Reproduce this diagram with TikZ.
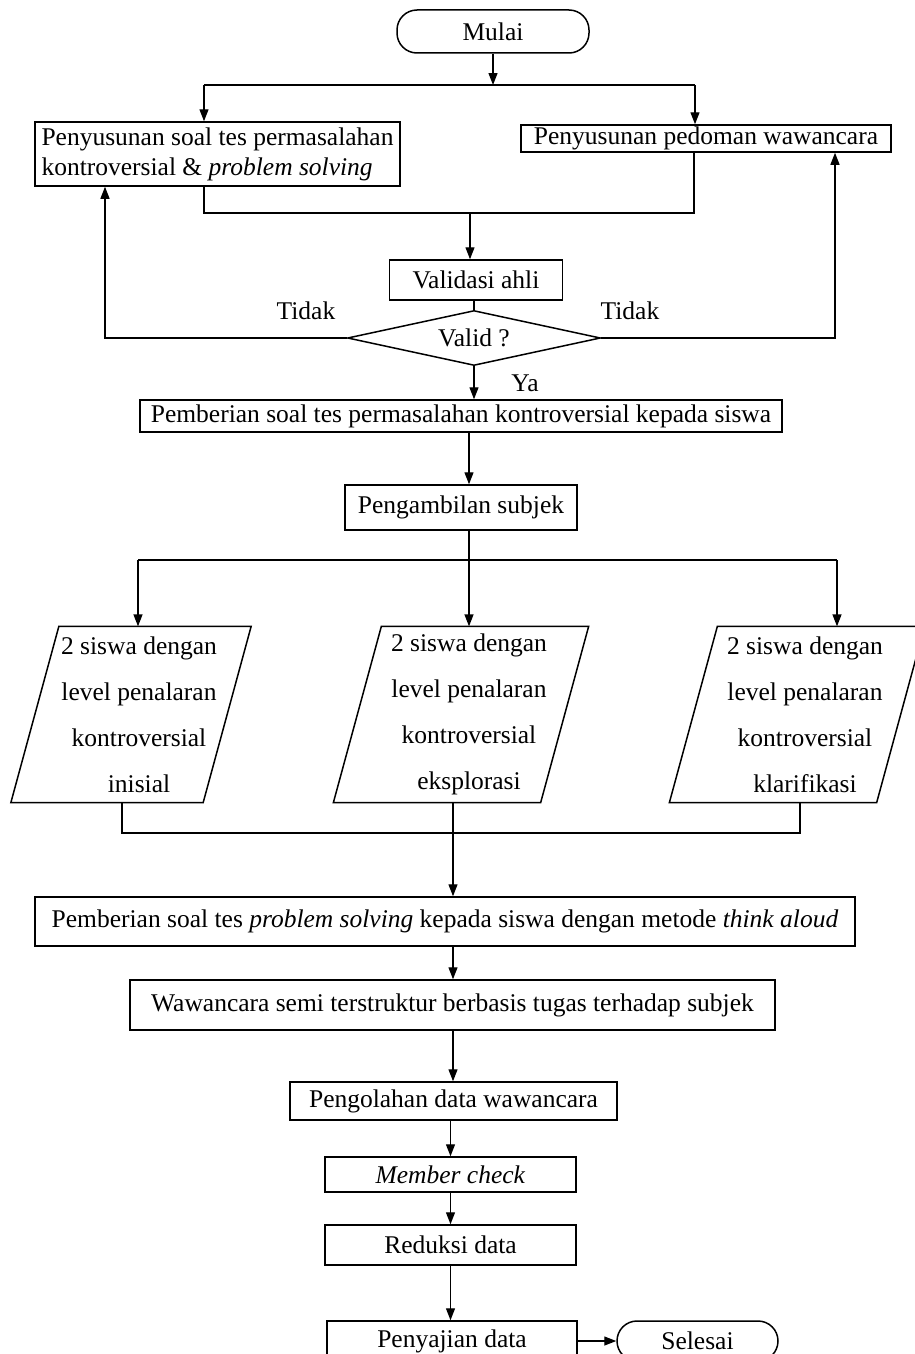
\documentclass[tikz,border=0pt]{standalone}
\usepackage{fontspec}
\setmainfont{Liberation Serif}
\usetikzlibrary{arrows.meta,shapes.geometric}

\begin{document}
	\begin{tikzpicture}[x=1pt,y=-1pt,line width=1.3pt,
		box/.style={draw,line width=1.5pt,inner sep=0pt,font=\fontsize{25.5}{30}\selectfont},
		terminal/.style={box,rounded corners=20pt},
		decision/.style={box,shape=diamond,aspect=4.6},
		para/.style={inner sep=0pt,align=center,minimum height=175,font=\fontsize{25.5}{46}\selectfont},
		label/.style={inner sep=0pt,font=\fontsize{25.5}{30}\selectfont},
		flow/.style={-{Triangle[length=12pt,width=9pt]}}]
		\useasboundingbox (0,0) rectangle (915,1354);
		\node [terminal,minimum width=192,minimum height=43] (mulai) at (493,31.5) {Mulai};
		\node [box,align=left,minimum width=365,minimum height=64] (soal) at (217.5,154) {Penyusunan soal tes permasalahan\\kontroversial \& \textit{problem solving}};
		\node [box,minimum width=370,minimum height=27] (pedoman) at (706,138.5) {Penyusunan pedoman wawancara};
		\node [box,minimum width=173,minimum height=40] (validasi) at (476,280) {Validasi ahli};
		\node [decision,minimum width=253,minimum height=55] (valid) at (474,338) {Valid ?};
		\node [label] (tidak1) at (306,311) {Tidak};
		\node [label] (tidak2) at (630,311) {Tidak};
		\node [label] (ya) at (525,383) {Ya};
		\node [box,minimum width=642,minimum height=32] (beri) at (461,416) {Pemberian soal tes permasalahan kontroversial kepada siswa};
		\node [box,minimum width=232,minimum height=45] (ambil) at (461,507.5) {Pengambilan subjek};
		\node [para,minimum width=191] (inisial) at (139,714.5) {2 siswa dengan\\level penalaran\\kontroversial\\inisial};
		\node [para,minimum width=206] (eksplorasi) at (469,714.5) {2 siswa dengan\\level penalaran\\kontroversial\\eksplorasi};
		\node [para,minimum width=206] (klarifikasi) at (805,714.5) {2 siswa dengan\\level penalaran\\kontroversial\\klarifikasi};
		\node [box,minimum width=820,minimum height=49] (solving) at (445,921.5) {Pemberian soal tes \textit{problem solving} kepada siswa dengan metode \textit{think aloud}};
		\node [box,minimum width=645,minimum height=50] (wawancara) at (452.5,1005) {Wawancara semi terstruktur berbasis tugas terhadap subjek};
		\node [box,minimum width=327,minimum height=38] (olah) at (453.5,1101) {Pengolahan data wawancara};
		\node [box,minimum width=251,minimum height=35] (member) at (450.5,1174.5) {\textit{Member check}};
		\node [box,minimum width=251,minimum height=40] (reduksi) at (450.5,1245) {Reduksi data};
		\node [box,minimum width=250,minimum height=40] (sajian) at (452,1341) {Penyajian data};
		\node [terminal,minimum width=161,minimum height=40] (selesai) at (697.5,1341) {Selesai};
		\foreach \p in {inisial,eksplorasi,klarifikasi}
			\draw [line width=1.5pt] ([xshift=16]\p.north west) -- ([xshift=16]\p.north east) -- ([xshift=-32]\p.south east) -- ([xshift=-32]\p.south west) -- cycle;
		\coordinate (a1) at (204,85);
		\coordinate (a2) at (695,85);
		\coordinate (b1) at (204,213);
		\coordinate (b2) at (694,213);
		\coordinate (bm) at (470,213);
		\coordinate (t1) at (105,338);
		\coordinate (t2) at (835,338);
		\coordinate (d1) at (138,560);
		\coordinate (d2) at (469,560);
		\coordinate (d3) at (837,560);
		\coordinate (e1) at (122,833);
		\coordinate (e2) at (453,833);
		\coordinate (e3) at (800,833);
		\draw [flow] (mulai.south) -- (mulai.south |- a1);
		\draw (a1) -- (a2);
		\draw [flow] (a1) -- (a1 |- soal.north);
		\draw [flow] (a2) -- (a2 |- pedoman.north);
		\draw (b1 |- soal.south) -- (b1) -- (b2) -- (b2 |- pedoman.south);
		\draw [flow] (bm) -- (bm |- validasi.north);
		\draw (validasi.south -| valid.north) -- (valid.north);
		\draw [flow] (valid.west) -- (t1) -- (t1 |- soal.south);
		\draw [flow] (valid.east) -- (t2) -- (t2 |- pedoman.south);
		\draw [flow] (valid.south) -- (valid.south |- beri.north);
		\draw [flow] (beri.south -| d2) -- (ambil.north -| d2);
		\draw (ambil.south -| d2) -- (d2);
		\draw (d1) -- (d3);
		\draw [flow] (d1) -- (d1 |- inisial.north);
		\draw [flow] (d2) -- (d2 |- eksplorasi.north);
		\draw [flow] (d3) -- (d3 |- klarifikasi.north);
		\draw (e1 |- inisial.south) -- (e1) -- (e3) -- (e3 |- klarifikasi.south);
		\draw [flow] (e2 |- eksplorasi.south) -- (e2 |- solving.north);
		\draw [flow] (solving.south -| e2) -- (wawancara.north -| e2);
		\draw [flow] (wawancara.south -| e2) -- (olah.north -| e2);
		\draw [flow] (olah.south -| member) -- (member.north);
		\draw [flow] (member.south) -- (reduksi.north);
		\draw [flow] (reduksi.south) -- (reduksi.south |- sajian.north);
		\draw [flow] (sajian.east) -- (selesai.west);
	\end{tikzpicture}
\end{document}
